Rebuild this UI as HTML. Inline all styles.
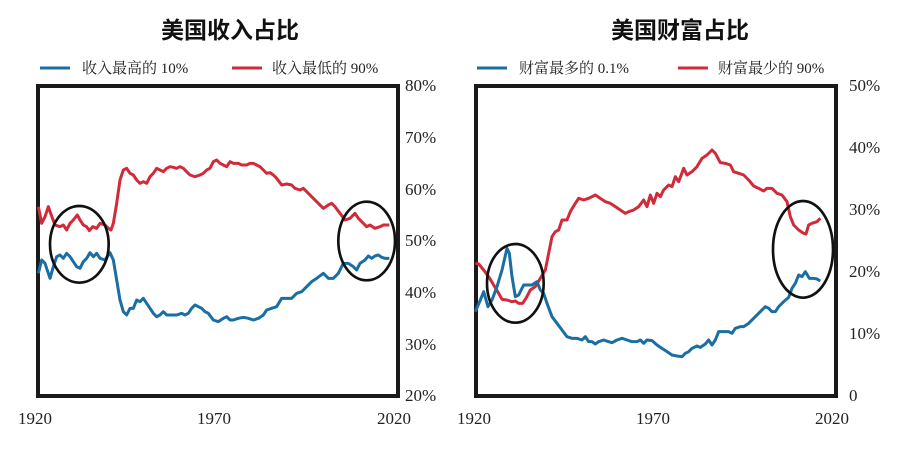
<!DOCTYPE html>
<html><head><meta charset="utf-8"><style>
body{margin:0;background:#fff;width:912px;height:450px;overflow:hidden}
svg{display:block}
.t{font-family:"Liberation Sans","Noto Sans CJK SC",sans-serif;font-weight:bold;font-size:23px;fill:#111}
.l{font-family:"Liberation Serif","Noto Serif CJK SC",serif;font-size:15px;fill:#222}
.a{font-family:"Liberation Serif",serif;font-size:17px;fill:#222}
</style></head><body>
<svg width="912" height="450" viewBox="0 0 912 450">
<text class="t" x="230" y="38" text-anchor="middle">美国收入占比</text>
<text class="t" x="680" y="38" text-anchor="middle">美国财富占比</text>
<line x1="40" y1="68" x2="70" y2="68" stroke="#1a6ea3" stroke-width="3"/>
<text class="l" x="82" y="73">收入最高的 10%</text>
<line x1="232" y1="68" x2="262" y2="68" stroke="#d12a38" stroke-width="3"/>
<text class="l" x="272" y="73">收入最低的 90%</text>
<line x1="477" y1="68" x2="507" y2="68" stroke="#1a6ea3" stroke-width="3"/>
<text class="l" x="519" y="73">财富最多的 0.1%</text>
<line x1="678" y1="68" x2="708" y2="68" stroke="#d12a38" stroke-width="3"/>
<text class="l" x="718" y="73">财富最少的 90%</text>

<rect x="38" y="86" width="360" height="310" fill="none" stroke="#1a1a1a" stroke-width="4"/>
<rect x="476" y="86" width="360" height="310" fill="none" stroke="#1a1a1a" stroke-width="4"/>

<g class="a">
<text x="405" y="91">80%</text><text x="405" y="143">70%</text><text x="405" y="195">60%</text><text x="405" y="246">50%</text><text x="405" y="298">40%</text><text x="405" y="350">30%</text><text x="405" y="401">20%</text>
<text x="849" y="91">50%</text><text x="849" y="153">40%</text><text x="849" y="215">30%</text><text x="849" y="277">20%</text><text x="849" y="339">10%</text><text x="849" y="401">0</text>
<text x="35" y="424" text-anchor="middle">1920</text><text x="214" y="424" text-anchor="middle">1970</text><text x="394" y="424" text-anchor="middle">2020</text>
<text x="474" y="424" text-anchor="middle">1920</text><text x="653" y="424" text-anchor="middle">1970</text><text x="832" y="424" text-anchor="middle">2020</text>
</g>

<g transform="translate(0,60) scale(0.33333)" fill="none" stroke-linejoin="round">
<polyline stroke="#d12a38" stroke-width="9" points="115,440 125,490 135,470 145,440 152,460 165,495 180,500 190,495 200,510 210,490 220,480 232,465 240,480 250,495 260,500 268,512 278,500 290,505 300,490 315,495 325,505 333,510 340,490 350,430 360,360 370,330 380,325 390,340 400,345 410,360 420,370 430,365 440,370 450,350 460,340 470,325 480,330 490,335 500,325 510,320 520,322 530,325 540,320 550,325 560,335 570,345 585,350 600,345 610,340 620,330 630,325 640,305 650,300 660,310 670,315 680,320 690,305 700,310 715,310 725,315 740,315 750,310 760,310 770,315 780,320 790,330 800,340 810,338 820,345 830,355 845,375 860,372 875,375 885,385 900,390 910,385 920,395 935,410 950,425 970,445 985,435 995,430 1005,440 1020,460 1035,480 1050,475 1065,460 1075,475 1090,490 1100,500 1110,495 1125,505 1140,500 1150,495 1168,495"/>
<polyline stroke="#1a6ea3" stroke-width="9" points="115,640 125,600 135,610 150,655 160,620 170,590 180,585 190,595 200,580 210,590 220,605 230,620 240,625 250,605 260,595 270,578 280,590 290,580 300,595 315,600 330,578 340,600 350,660 360,720 370,755 380,765 390,745 400,745 410,720 420,725 430,715 440,730 450,745 460,760 470,770 480,765 490,755 500,765 510,765 530,765 545,760 555,765 565,760 575,745 585,735 595,740 605,745 615,755 625,760 640,780 655,785 670,775 680,770 690,780 700,780 715,775 730,772 745,775 760,780 775,775 790,765 800,750 815,745 830,740 845,715 860,715 875,715 890,700 905,695 920,680 935,665 950,655 970,640 985,655 1000,655 1015,640 1030,610 1045,610 1060,620 1070,630 1080,610 1095,600 1105,588 1115,595 1125,588 1135,585 1145,592 1155,595 1168,595"/>
<ellipse cx="238" cy="553" rx="88" ry="115" stroke="#111" stroke-width="8"/>
<ellipse cx="1100" cy="543" rx="85" ry="118" stroke="#111" stroke-width="8"/>
</g>

<g transform="translate(452,60) scale(0.33333)" fill="none" stroke-linejoin="round">
<polyline stroke="#d12a38" stroke-width="9" points="70,610 80,612 95,630 110,650 125,675 140,700 150,718 165,720 180,725 190,723 200,730 212,730 222,715 235,690 250,680 265,655 280,630 290,580 300,530 310,515 320,510 330,480 345,480 355,455 370,430 380,415 395,420 410,415 430,405 445,415 460,425 475,430 490,440 505,450 520,460 530,455 545,450 560,440 575,420 585,440 595,405 605,430 615,400 625,410 635,390 650,375 660,380 670,350 680,365 695,325 705,345 720,335 735,320 750,295 765,285 780,270 790,280 805,308 820,310 835,315 845,335 860,340 875,345 890,360 905,378 920,385 935,393 945,385 960,385 975,400 990,405 1005,425 1015,470 1025,495 1040,510 1055,520 1062,522 1070,495 1080,490 1095,485 1105,475"/>
<polyline stroke="#1a6ea3" stroke-width="9" points="70,755 85,720 95,695 108,740 120,720 135,680 150,630 165,565 172,580 180,650 190,710 200,705 210,685 215,675 225,675 240,675 255,665 265,690 275,700 285,730 300,770 315,790 330,810 345,830 360,835 375,835 390,840 400,830 410,845 420,845 430,852 440,845 455,840 470,845 480,848 495,840 510,835 525,840 540,845 555,845 565,840 575,850 585,840 600,842 615,855 630,865 645,875 660,885 675,888 690,890 700,880 710,875 720,865 735,858 745,862 760,852 770,840 780,855 790,840 800,815 815,815 830,815 840,820 850,805 865,800 875,800 890,790 900,780 915,765 930,750 940,740 950,745 960,755 970,755 980,740 995,725 1010,712 1020,685 1030,670 1040,645 1050,650 1060,635 1072,655 1085,655 1095,657 1105,663"/>
<ellipse cx="190" cy="670" rx="85" ry="118" stroke="#111" stroke-width="8"/>
<ellipse cx="1053" cy="568" rx="90" ry="145" stroke="#111" stroke-width="8"/>
</g>
</svg>
</body></html>
